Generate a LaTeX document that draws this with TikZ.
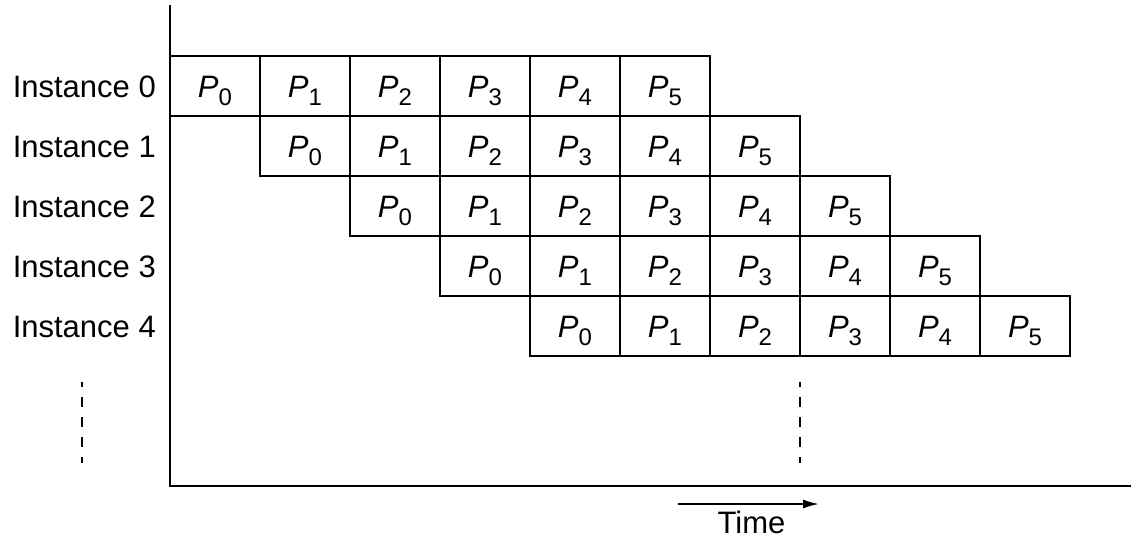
\documentclass[tikz,border=0pt]{standalone}
\usepackage{fontspec}
\setmainfont{Liberation Sans}
\usetikzlibrary{arrows.meta}
\newcommand\bigfont{\fontsize{31}{37}\selectfont}
\newcommand\Pcell[1]{\textit{P}\raisebox{-8pt}{\fontsize{24}{29}\selectfont #1}}
\tikzset{
  cell/.style={draw, line width=1.4pt, minimum width=90pt, minimum height=60pt,
    inner sep=0pt, text height=22pt, text depth=0pt, font=\bigfont},
  rowlabel/.style={anchor=base east, inner sep=0pt, font=\bigfont},
  axis/.style={line width=2pt},
  etc/.style={line width=2pt, dash pattern=on 10pt off 10pt, dash phase=5pt},
  timearrow/.style={line width=1.8pt, -{Latex[length=16pt,width=9pt]}},
}
\begin{document}
\begin{tikzpicture}[x=1pt,y=-1pt]
\useasboundingbox (0,0) rectangle (1131,539);
% axes
\coordinate (top) at (170,5);
\coordinate (origin) at (170,486);
\coordinate (right) at (1131,486);
\draw[axis] (top) -- (origin) -- (right);
% rows
\foreach \i in {0,...,4}{
  \node[rowlabel] (lab\i) at (156,{97+60*\i}) {Instance \i};
  \foreach \j in {0,...,5}{
    \node[cell] (c\i-\j) at ({215+90*(\i+\j)},{86+60*\i}) {\Pcell{\j}};
  }
}
% continuation marks
\coordinate (d1a) at (82,382);
\coordinate (d1b) at (82,463);
\coordinate (d2a) at (800,382);
\coordinate (d2b) at (800,463);
\draw[etc] (d1a) -- (d1b);
\draw[etc] (d2a) -- (d2b);
% time arrow
\coordinate (ta) at (678,504);
\coordinate (tb) at (819,504);
\draw[timearrow] (ta) -- (tb);
\node[anchor=base, inner sep=0pt, font=\bigfont] (time) at (751.5,533) {Time};
\end{tikzpicture}
\end{document}
